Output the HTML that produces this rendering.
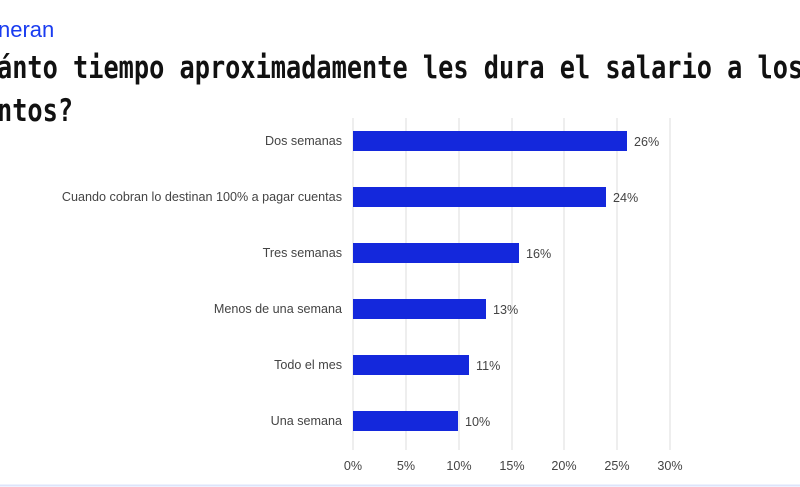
<!DOCTYPE html>
<html><head><style>
body{margin:0;width:800px;height:487px;background:#fff;overflow:hidden;position:relative;font-family:"Liberation Sans",sans-serif}
.t{position:absolute;font-family:"DejaVu Sans Mono",monospace;font-weight:bold;color:#111;font-size:31px;white-space:nowrap;transform:scaleX(0.815);transform-origin:left}
</style></head><body>
<div style="position:absolute;left:-2px;top:17px;font-size:22px;color:#1a3cf0">neran</div>
<div class="t" style="left:-3px;top:50px">ánto tiempo aproximadamente les dura el salario a los</div>
<div class="t" style="left:-3px;top:93px">ntos?</div>
<svg width="800" height="487" style="position:absolute;left:0;top:0" font-family="Liberation Sans, sans-serif" font-size="12.6" fill="#444">
<g stroke="#ddd" stroke-width="1">
<line x1="353" y1="118" x2="353" y2="450"/><line x1="406" y1="118" x2="406" y2="450"/><line x1="459" y1="118" x2="459" y2="450"/><line x1="512" y1="118" x2="512" y2="450"/><line x1="564" y1="118" x2="564" y2="450"/><line x1="617" y1="118" x2="617" y2="450"/><line x1="670" y1="118" x2="670" y2="450"/>
</g>
<g fill="#1428dc">
<rect x="353" y="131" width="274" height="20"/><rect x="353" y="187" width="253" height="20"/><rect x="353" y="243" width="166" height="20"/><rect x="353" y="299" width="133" height="20"/><rect x="353" y="355" width="116" height="20"/><rect x="353" y="411" width="105" height="20"/>
</g>
<g text-anchor="end">
<text x="342" y="145">Dos semanas</text><text x="342" y="201">Cuando cobran lo destinan 100% a pagar cuentas</text><text x="342" y="257">Tres semanas</text><text x="342" y="313">Menos de una semana</text><text x="342" y="369">Todo el mes</text><text x="342" y="425">Una semana</text>
</g>
<g>
<text x="634" y="146">26%</text><text x="613" y="202">24%</text><text x="526" y="258">16%</text><text x="493" y="314">13%</text><text x="476" y="370">11%</text><text x="465" y="426">10%</text>
</g>
<g text-anchor="middle">
<text x="353" y="470">0%</text><text x="406" y="470">5%</text><text x="459" y="470">10%</text><text x="512" y="470">15%</text><text x="564" y="470">20%</text><text x="617" y="470">25%</text><text x="670" y="470">30%</text>
</g>
<line x1="0" y1="485.5" x2="800" y2="485.5" stroke="#dde4fb" stroke-width="2"/>
</svg>
</body></html>
